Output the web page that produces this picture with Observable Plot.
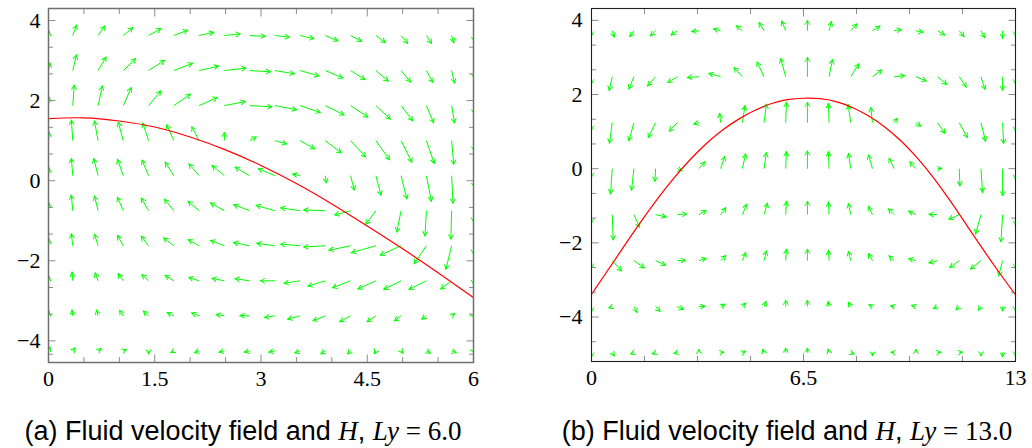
<!DOCTYPE html>
<html><head><meta charset="utf-8">
<script src="https://cdn.jsdelivr.net/npm/d3@7"></script>
<script src="https://cdn.jsdelivr.net/npm/@observablehq/plot@0.6"></script>
<style>
html,body{margin:0;padding:0;background:#fff}
body{width:1032px;height:448px;position:relative;overflow:hidden}
.panel{position:absolute;top:0}
.cap{position:absolute;top:418px;font-family:"Liberation Sans",Arial,sans-serif;font-size:27px;line-height:27px;white-space:nowrap;color:#000;transform:translateX(-50%)}
.m{font-family:"Liberation Serif",serif}
.mi{font-family:"Liberation Serif",serif;font-style:italic}
</style></head><body>
<div id="a" class="panel" style="left:0px"></div>
<div id="b" class="panel" style="left:540px"></div>
<div class="cap" style="left:243px">(a) Fluid velocity field and <span class="mi">H</span>, <span class="mi">Ly</span><span class="m"> = 6.0</span></div>
<div class="cap" style="left:787px">(b) Fluid velocity field and <span class="mi">H</span>, <span class="mi">Ly</span><span class="m"> = 13.0</span></div>
<script>
// ---------- Panel (a): Ly = 6 ----------
const colsA = [0, 0.343, 0.70, 1.056, 1.413, 1.77, 2.126, 2.483, 2.839, 3.196, 3.552, 3.909, 4.265, 4.622, 4.978, 5.335, 5.691, 6.0];
const rowsA = [3.625, 2.75, 1.875, 1.0, 0.125, -0.75, -1.625, -2.5, -3.375, -4.25];
const uA = [
  [0.01, 0.05, 0.09, 0.13, 0.17, 0.19, 0.20, 0.22, 0.22, 0.20, 0.19, 0.17, 0.15, 0.13, 0.09, 0.07, 0.03, 0.01],
  [0.02, 0.05, 0.11, 0.17, 0.22, 0.26, 0.27, 0.30, 0.29, 0.27, 0.26, 0.24, 0.20, 0.17, 0.13, 0.09, 0.04, 0.01],
  [0.01, 0.02, 0.06, 0.11, 0.17, 0.23, 0.25, 0.29, 0.31, 0.30, 0.28, 0.26, 0.24, 0.20, 0.16, 0.10, 0.04, 0.01],
  [0.01, -0.02, -0.05, -0.07, -0.08, -0.10, -0.10, 0.00, 0.09, 0.16, 0.20, 0.22, 0.21, 0.19, 0.15, 0.11, 0.03, 0.01],
  [0.01, -0.02, -0.06, -0.08, -0.09, -0.12, -0.14, -0.17, -0.20, -0.23, -0.10, 0.01, 0.05, 0.07, 0.08, 0.07, 0.02, 0.01],
  [0.01, -0.02, -0.05, -0.08, -0.10, -0.13, -0.15, -0.19, -0.22, -0.26, -0.27, -0.30, -0.22, -0.14, -0.06, -0.02, -0.01, 0.00],
  [0.01, -0.02, -0.05, -0.08, -0.10, -0.14, -0.15, -0.19, -0.22, -0.25, -0.27, -0.30, -0.30, -0.34, -0.29, -0.17, -0.08, 0.00],
  [0.01, -0.01, -0.04, -0.07, -0.09, -0.12, -0.14, -0.17, -0.20, -0.20, -0.22, -0.24, -0.25, -0.25, -0.24, -0.24, -0.15, 0.00],
  [0.01, -0.01, -0.02, -0.05, -0.07, -0.09, -0.10, -0.11, -0.13, -0.14, -0.17, -0.17, -0.15, -0.12, -0.09, -0.06, 0.04, 0.01],
  [0.02, 0.03, 0.04, 0.04, 0.00, -0.04, -0.06, -0.07, -0.07, -0.08, -0.07, -0.06, -0.04, -0.02, 0.02, 0.05, 0.06, 0.01]
];
const vA = [
  [0.10, 0.25, 0.23, 0.19, 0.17, 0.13, 0.08, 0.04, -0.02, -0.04, -0.08, -0.13, -0.14, -0.17, -0.19, -0.19, -0.17, -0.13],
  [0.18, 0.38, 0.33, 0.29, 0.25, 0.18, 0.11, 0.06, -0.03, -0.08, -0.13, -0.18, -0.22, -0.26, -0.28, -0.29, -0.30, -0.18],
  [0.20, 0.50, 0.48, 0.44, 0.36, 0.28, 0.20, 0.10, -0.03, -0.10, -0.17, -0.23, -0.28, -0.33, -0.37, -0.42, -0.42, -0.20],
  [0.20, 0.50, 0.48, 0.45, 0.43, 0.39, 0.34, 0.20, 0.09, -0.08, -0.20, -0.30, -0.40, -0.47, -0.53, -0.56, -0.58, -0.25],
  [0.18, 0.42, 0.42, 0.40, 0.38, 0.33, 0.29, 0.25, 0.21, 0.17, 0.04, -0.17, -0.35, -0.48, -0.57, -0.63, -0.68, -0.28],
  [0.18, 0.38, 0.36, 0.33, 0.31, 0.28, 0.23, 0.19, 0.15, 0.13, 0.07, 0.02, -0.10, -0.33, -0.52, -0.62, -0.70, -0.27],
  [0.15, 0.29, 0.28, 0.25, 0.23, 0.19, 0.15, 0.13, 0.08, 0.06, 0.04, -0.03, -0.11, -0.17, -0.23, -0.44, -0.58, -0.20],
  [0.10, 0.21, 0.19, 0.17, 0.15, 0.13, 0.08, 0.06, 0.05, 0.00, -0.06, -0.13, -0.17, -0.20, -0.21, -0.21, -0.20, -0.08],
  [0.10, 0.14, 0.14, 0.13, 0.11, 0.08, 0.07, 0.03, 0.01, -0.04, -0.08, -0.12, -0.14, -0.14, -0.12, -0.08, 0.05, -0.03],
  [0.09, 0.07, 0.05, 0.03, -0.07, -0.04, -0.04, -0.03, -0.03, -0.03, -0.05, -0.07, -0.07, -0.06, -0.05, -0.05, -0.04, -0.03]
];
const hAx = [0, 0.5, 1, 1.5, 2, 2.5, 3, 3.5, 4, 4.5, 5, 5.5, 6];
const hAy = [1.55, 1.57, 1.49, 1.34, 1.09, 0.77, 0.38, -0.07, -0.58, -1.13, -1.70, -2.30, -2.92];
const xTicksA = [0, 1.5, 3, 4.5, 6];
const xTickLabelsA = ["0", "1.5", "3", "4.5", "6"];
const xMinorA = [0.5, 1, 2, 2.5, 3.5, 4, 5, 5.5];
const yTicksA = [-4, -2, 0, 2, 4];
const yTickLabelsA = ["−4", "−2", "0", "2", "4"];
const yMinorA = [-4.333, -3.333, -2.667, -1.333, -0.667, 0.667, 1.333, 2.667, 3.333];

// ---------- Panel (b): Ly = 13 ----------
const colsB = [0, 0.635, 1.30, 1.965, 2.63, 3.295, 3.96, 4.625, 5.29, 5.955, 6.62, 7.285, 7.95, 8.615, 9.28, 9.945, 10.61, 11.275, 11.94, 12.605, 13.0];
const rowsB = [3.72, 2.48, 1.24, 0, -1.24, -2.48, -3.72, -4.96];
const uB = [
  [0, 0.06, -0.12, -0.15, -0.18, -0.21, -0.21, -0.18, -0.15, -0.12, 0, 0.07, 0.18, 0.22, 0.21, 0.21, 0.21, 0.14, 0.12, 0, 0],
  [0, -0.09, -0.15, -0.24, -0.28, -0.34, -0.35, -0.25, -0.21, -0.15, 0, 0.10, 0.24, 0.28, 0.31, 0.31, 0.27, 0.21, 0.12, 0, 0],
  [0, -0.08, -0.15, -0.22, -0.24, -0.15, -0.03, 0.08, 0.07, 0.02, 0, -0.02, -0.08, -0.05, 0.10, 0.14, 0.22, 0.24, 0.14, 0.03, 0],
  [0, -0.05, -0.07, -0.02, 0.14, 0.17, 0.12, 0.10, 0.07, 0.02, 0, -0.02, -0.07, -0.12, -0.15, -0.18, 0.12, 0.02, 0.05, 0, 0],
  [0, 0.03, 0.17, 0.31, 0.28, 0.21, 0.15, 0.13, 0.10, 0.02, 0, -0.02, -0.07, -0.12, -0.17, -0.21, -0.25, -0.31, -0.16, -0.05, 0],
  [0, 0.28, 0.31, 0.30, 0.24, 0.21, 0.15, 0.10, 0.07, 0.02, 0, -0.02, -0.07, -0.12, -0.15, -0.21, -0.25, -0.28, -0.31, -0.12, 0],
  [0, -0.09, 0.09, 0.13, 0.18, 0.17, 0.12, 0.10, 0.06, 0, 0, -0.03, -0.07, -0.10, -0.10, -0.12, -0.12, -0.09, -0.07, 0, 0],
  [0, 0.06, -0.09, -0.09, -0.09, 0, 0.09, 0.09, -0.03, 0, 0, -0.03, 0.09, 0, -0.09, 0, 0.09, 0.09, 0, 0, 0]
];
const vB = [
  [-0.13, -0.16, -0.15, -0.13, -0.11, -0.02, 0.05, 0.13, 0.21, 0.25, 0.27, 0.24, 0.18, 0.12, 0.03, -0.04, -0.11, -0.15, -0.18, -0.20, -0.13],
  [-0.18, -0.36, -0.32, -0.24, -0.15, -0.02, 0.09, 0.24, 0.39, 0.48, 0.51, 0.45, 0.34, 0.18, 0.03, -0.11, -0.20, -0.27, -0.33, -0.36, -0.18],
  [-0.19, -0.54, -0.48, -0.39, -0.22, -0.03, 0.24, 0.45, 0.49, 0.54, 0.54, 0.51, 0.48, 0.40, 0.11, -0.09, -0.28, -0.39, -0.49, -0.55, -0.22],
  [-0.22, -0.67, -0.57, -0.33, -0.05, 0.18, 0.32, 0.39, 0.42, 0.45, 0.47, 0.45, 0.40, 0.36, 0.27, 0.18, 0.01, -0.45, -0.63, -0.72, -0.27],
  [-0.22, -0.67, -0.33, -0.06, 0.02, 0.11, 0.18, 0.27, 0.30, 0.35, 0.35, 0.33, 0.29, 0.22, 0.15, 0.09, 0.01, -0.12, -0.51, -0.72, -0.27],
  [-0.19, -0.27, -0.19, -0.12, 0.01, 0.06, 0.13, 0.21, 0.25, 0.30, 0.30, 0.27, 0.24, 0.18, 0.12, 0.05, -0.06, -0.18, -0.22, -0.40, -0.19],
  [-0.13, -0.03, -0.15, -0.12, -0.07, 0.01, 0.06, 0.09, 0.13, 0.16, 0.16, 0.13, 0.11, 0.05, 0.02, 0.03, -0.05, -0.08, -0.09, -0.11, -0.11],
  [-0.11, -0.08, -0.03, -0.03, -0.02, 0.08, 0.01, 0.03, 0.08, 0.11, 0.11, 0.08, -0.03, -0.08, 0.01, 0.08, 0.01, 0.01, -0.08, -0.11, -0.08]
];
const hBx = [0, 0.5, 1, 1.5, 2, 2.5, 3, 3.5, 4, 4.5, 5, 5.5, 6, 6.5, 7, 7.5, 8, 8.5, 9, 9.5, 10, 10.5, 11, 11.5, 12, 12.5, 13];
const hBy = [-3.39, -2.74, -2.09, -1.45, -0.84, -0.28, 0.22, 0.66, 1.03, 1.33, 1.57, 1.75, 1.86, 1.90, 1.89, 1.81, 1.65, 1.42, 1.12, 0.74, 0.28, -0.26, -0.87, -1.52, -2.17, -2.80, -3.40];
const xTicksB = [0, 6.5, 13];
const xTickLabelsB = ["0", "6.5", "13"];
const xMinorB = [1.625, 3.25, 4.875, 8.125, 9.75, 11.375];
const yTicksB = [-4, -2, 0, 2, 4];
const yTickLabelsB = ["−4", "−2", "0", "2", "4"];
const yMinorB = [-4.667, -3.333, -2.667, -1.333, -0.667, 0.667, 1.333, 2.667, 3.333];

// ---------- helpers ----------
function field(cols, rows, U, V) {
  const out = [];
  rows.forEach((y, j) => cols.forEach((x, i) => out.push({x, y, u: U[j][i], v: V[j][i]})));
  return out;
}
function head(color) {
  const m = d3.create("svg:marker")
    .attr("viewBox", "-6 -6 12 12")
    .attr("markerWidth", 12).attr("markerHeight", 12)
    .attr("markerUnits", "userSpaceOnUse")
    .attr("orient", "auto")
    .attr("fill", "none").attr("stroke", color)
    .attr("stroke-width", 1).attr("stroke-linecap", "round").attr("stroke-linejoin", "round");
  m.append("path").attr("d", "M-3.8,-2.3Q-1.4,-0.6,0.6,0Q-1.4,0.6,-3.8,2.3");
  return m.node();
}
const TICK = "#8c8c8c";
function panel({cols, rows, U, V, hx, hy, xd, yd, xT, xL, xM, yT, yL, yM, width, ml, mr, mb, frame, frameW, pad}) {
  const xlab = new Map(xT.map((t, i) => [t, xL[i]]));
  const ylab = new Map(yT.map((t, i) => [t, yL[i]]));
  const h = hx.map((x, i) => ({x, y: hy[i]}));
  return Plot.plot({
    width, height: 400, marginLeft: ml, marginRight: mr, marginTop: 8, marginBottom: mb,
    x: {domain: xd, label: null},
    y: {domain: yd, label: null},
    style: {fontFamily: "'Liberation Serif', serif", fontSize: "22px", color: "#000", background: "#fff", overflow: "visible"},
    marks: [
      Plot.link(field(cols, rows, U, V), {
        x1: "x", y1: "y", x2: d => d.x + d.u, y2: d => d.y + d.v,
        stroke: "#00ff00", strokeWidth: 1, markerEnd: head, clip: true
      }),
      Plot.line(h, {x: "x", y: "y", curve: "natural", stroke: "#ff0000", strokeWidth: 1.2, clip: true}),
      // major ticks (inward) on all sides
      Plot.axisX(xT, {anchor: "bottom", tickSize: -7.5, stroke: TICK, fill: "none", label: null}),
      Plot.axisX(xT, {anchor: "top", tickSize: -7.5, stroke: TICK, fill: "none", label: null}),
      Plot.axisY(yT, {anchor: "left", tickSize: -7.5, stroke: TICK, fill: "none", label: null}),
      Plot.axisY(yT, {anchor: "right", tickSize: -7.5, stroke: TICK, fill: "none", label: null}),
      // minor ticks
      Plot.axisX(xM, {anchor: "bottom", tickSize: -5, stroke: TICK, fill: "none", label: null}),
      Plot.axisX(xM, {anchor: "top", tickSize: -5, stroke: TICK, fill: "none", label: null}),
      Plot.axisY(yM, {anchor: "left", tickSize: -5, stroke: TICK, fill: "none", label: null}),
      Plot.axisY(yM, {anchor: "right", tickSize: -5, stroke: TICK, fill: "none", label: null}),
      // labels
      Plot.axisX(xT, {anchor: "bottom", tickSize: 0, tickPadding: 8, tickFormat: d => xlab.get(d), label: null}),
      Plot.axisY(yT, {anchor: "left", tickSize: 0, tickPadding: pad, tickFormat: d => ylab.get(d), label: null}),
      Plot.frame({stroke: frame, strokeWidth: frameW})
    ]
  });
}

document.getElementById("a").append(panel({
  cols: colsA, rows: rowsA, U: uA, V: vA, hx: hAx, hy: hAy,
  xd: [0, 6], yd: [-4.54, 4.3], xT: xTicksA, xL: xTickLabelsA, xM: xMinorA,
  yT: yTicksA, yL: yTickLabelsA, yM: yMinorA,
  width: 490, ml: 48, mr: 17, mb: 38, frame: "#6f6f6f", frameW: 1.5, pad: 8
}));
document.getElementById("b").append(panel({
  cols: colsB, rows: rowsB, U: uB, V: vB, hx: hBx, hy: hBy,
  xd: [0, 13], yd: [-5.2, 4.32], xT: xTicksB, xL: xTickLabelsB, xM: xMinorB,
  yT: yTicksB, yL: yTickLabelsB, yM: yMinorB,
  width: 492, ml: 51, mr: 17, mb: 39, frame: "#1e1e1e", frameW: 1.1, pad: 9
}));
</script>
</body></html>
